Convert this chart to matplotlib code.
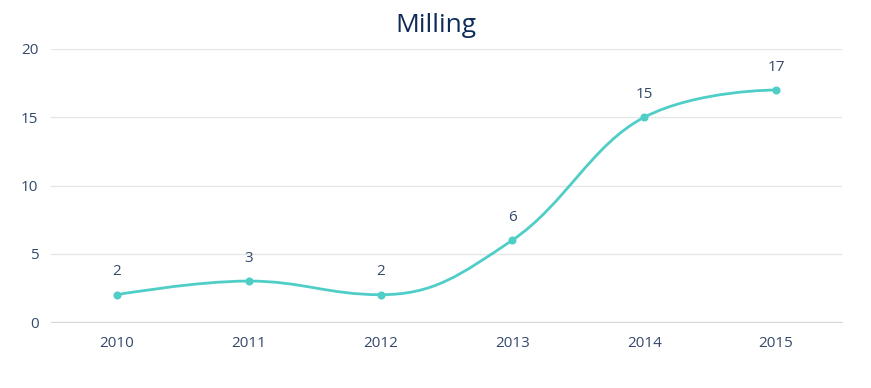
import matplotlib.pyplot as plt
from matplotlib.path import Path
from matplotlib.patches import PathPatch

years = ['2010', '2011', '2012', '2013', '2014', '2015']
values = [2, 3, 2, 6, 15, 17]

line_color = '#4fcdc7'
text_color = '#34496b'

plt.rcParams['font.family'] = ['Open Sans', 'DejaVu Sans']


# Highcharts-style spline control points
def spline_path(xs, ys, smoothing=1.5):
    n = len(xs)
    left = [(x, y) for x, y in zip(xs, ys)]
    right = [(x, y) for x, y in zip(xs, ys)]
    d = smoothing + 1
    for i in range(1, n - 1):
        x, y = xs[i], ys[i]
        lx, ly = xs[i - 1], ys[i - 1]
        nx, ny = xs[i + 1], ys[i + 1]
        lcx = (smoothing * x + lx) / d
        lcy = (smoothing * y + ly) / d
        rcx = (smoothing * x + nx) / d
        rcy = (smoothing * y + ny) / d
        if rcx != lcx:
            corr = (rcy - lcy) * (rcx - x) / (rcx - lcx) + y - rcy
            lcy += corr
            rcy += corr
        if lcy > ly and lcy > y:
            lcy = max(ly, y)
            rcy = 2 * y - lcy
        elif lcy < ly and lcy < y:
            lcy = min(ly, y)
            rcy = 2 * y - lcy
        if rcy > ny and rcy > y:
            rcy = max(ny, y)
            lcy = 2 * y - rcy
        elif rcy < ny and rcy < y:
            rcy = min(ny, y)
            lcy = 2 * y - rcy
        left[i] = (lcx, lcy)
        right[i] = (rcx, rcy)
    verts = [(xs[0], ys[0])]
    codes = [Path.MOVETO]
    for i in range(1, n):
        verts += [right[i - 1], left[i], (xs[i], ys[i])]
        codes += [Path.CURVE4] * 3
    return Path(verts, codes)


fig = plt.figure(figsize=(8.71, 3.88), dpi=100)
ax = fig.add_axes([51 / 871, 1 - 322 / 388, (842 - 51) / 871, (322 - 49) / 388])

xs = list(range(len(years)))
ax.add_patch(PathPatch(spline_path(xs, values), facecolor='none',
                       edgecolor=line_color, lw=2, zorder=3))
ax.plot(xs, values, 'o', color=line_color, markersize=4.8, zorder=4)

for x, v in zip(xs, values):
    ax.annotate(str(v), (x, v), xytext=(0, 11), textcoords='offset points',
                ha='center', va='bottom', fontsize=11, color=text_color)

ax.set_xlim(-0.5, len(years) - 0.5)
ax.set_ylim(0, 20)
ax.set_yticks([0, 5, 10, 15, 20])
ax.set_xticks(xs)
ax.set_xticklabels(years)
ax.grid(axis='y', color='#e6e6e6', lw=1)
ax.set_axisbelow(True)
for s in ['top', 'right', 'left']:
    ax.spines[s].set_visible(False)
ax.spines['bottom'].set_color('#d8d8d8')
ax.tick_params(length=0, labelsize=11, labelcolor=text_color)
ax.tick_params(axis='x', pad=10)
ax.tick_params(axis='y', pad=9)

fig.text(0.5, 1 - 26 / 388, 'Milling', ha='center', va='center',
         fontsize=19, color='#0f2b58', fontweight='medium')

fig.savefig('out.png', dpi=100)
